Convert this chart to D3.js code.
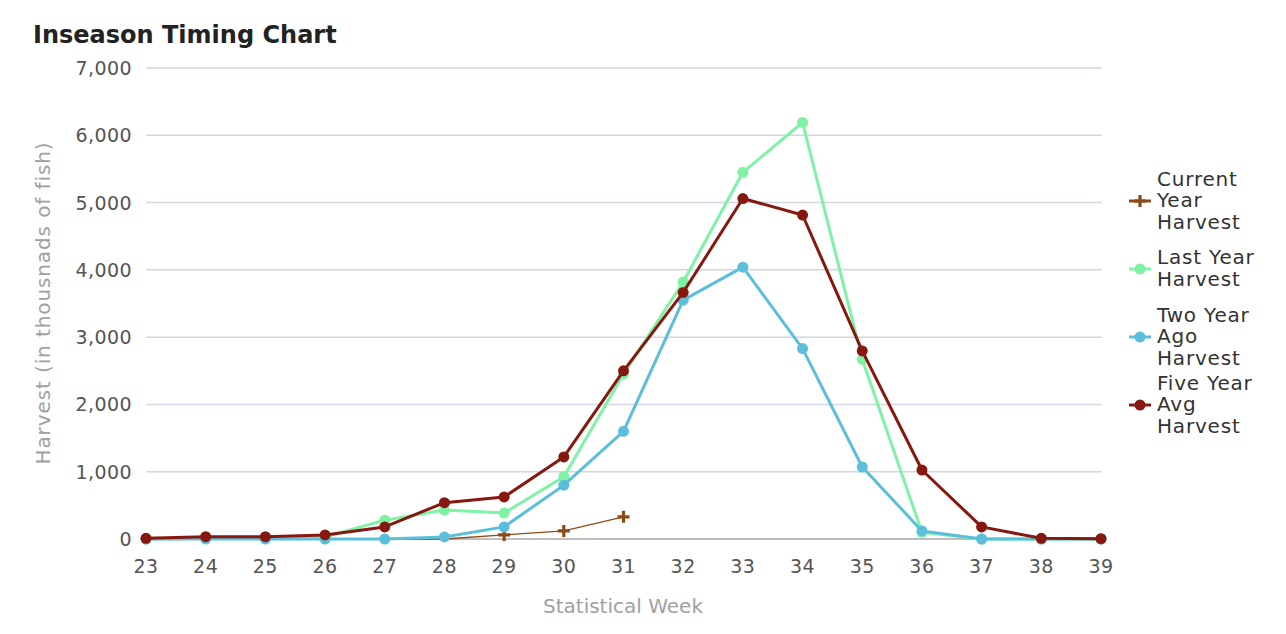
<!DOCTYPE html>
<html><head><meta charset="utf-8">
<script src="https://cdn.jsdelivr.net/npm/d3@7"></script>
<style>body{margin:0;background:#fff}svg{display:block}text{font-family:"DejaVu Sans",sans-serif}</style>
</head><body><svg id="c" width="1286" height="634"></svg>
<script>
const weeks = [23,24,25,26,27,28,29,30,31,32,33,34,35,36,37,38,39];
const yTicks = [0,1000,2000,3000,4000,5000,6000,7000];
const currentYear = [0,0,0,0,0,0,60,120,330];
const lastYear = [0,10,10,30,280,430,385,925,2450,3820,5450,6190,2670,100,0,0,0];
const twoYearAgo = [0,0,0,0,0,30,180,800,1600,3550,4040,2830,1070,120,0,0,0];
const fiveYearAvg = [10,35,35,60,180,540,625,1220,2500,3665,5060,4815,2795,1025,180,10,5];
const seriesNames = ["Current Year Harvest","Last Year Harvest","Two Year Ago Harvest","Five Year Avg Harvest"];
const legendLines = [["Current","Year","Harvest"],["Last Year","Harvest"],["Two Year","Ago","Harvest"],["Five Year","Avg","Harvest"]];

const svg = d3.select("#c");
const x = d3.scaleLinear().domain([23,39]).range([146,1101]);
const y = d3.scaleLinear().domain([0,7000]).range([539,68]);

svg.append("text").attr("x",33).attr("y",43).attr("font-size",24).attr("font-weight","bold").attr("fill","#222").text("Inseason Timing Chart");

// grid
svg.append("g").selectAll("line").data(yTicks.filter(d=>d>0)).join("line")
  .attr("x1",146).attr("x2",1102).attr("y1",d=>y(d)).attr("y2",d=>y(d))
  .attr("stroke","#d3d6e0").attr("stroke-width",1.5);
svg.append("line").attr("x1",146).attr("x2",1102).attr("y1",y(0)).attr("y2",y(0)).attr("stroke","#a8a8a8").attr("stroke-width",1.5);

// y labels
svg.append("g").selectAll("text").data(yTicks).join("text")
  .attr("x",132).attr("y",d=>y(d)+7).attr("text-anchor","end").attr("font-size",19).attr("letter-spacing",0.4).attr("fill","#555")
  .text(d=>d3.format(",")(d));
// x labels
svg.append("g").selectAll("text").data(weeks).join("text")
  .attr("x",d=>x(d)).attr("y",573).attr("text-anchor","middle").attr("font-size",19).attr("letter-spacing",0.5).attr("fill","#555")
  .text(d=>d);

svg.append("text").attr("transform","translate(50,303) rotate(-90)").attr("text-anchor","middle").attr("font-size",20).attr("letter-spacing",0.9).attr("fill","#a0a0a0").text("Harvest (in thousnads of fish)");
svg.append("text").attr("x",623).attr("y",613).attr("text-anchor","middle").attr("font-size",20).attr("fill","#a0a0a0").text("Statistical Week");

const line = d3.line().x(d=>x(d[0])).y(d=>y(d[1]));
const series = [
  {vals:currentYear,color:"#8b4a16",w:1.3,marker:"plus"},
  {vals:lastYear,color:"#7ff2a6",w:3,marker:"circle"},
  {vals:twoYearAgo,color:"#5bbfdc",w:3,marker:"circle"},
  {vals:fiveYearAvg,color:"#861810",w:3,marker:"circle"}
];
series.forEach(s=>{
  const pts = s.vals.map((v,i)=>[weeks[i],v]);
  svg.append("path").datum(pts).attr("d",line).attr("fill","none").attr("stroke",s.color).attr("stroke-width",s.w).attr("stroke-linejoin","round");
  if(s.marker==="circle"){
    svg.append("g").selectAll("circle").data(pts).join("circle").attr("cx",d=>x(d[0])).attr("cy",d=>y(d[1])).attr("r",5.5).attr("fill",s.color);
  } else {
    svg.append("g").selectAll("path").data(pts.slice(6)).join("path").attr("transform",d=>`translate(${x(d[0])},${y(d[1])})`)
      .attr("d","M-6,0H6M0,-6V6").attr("stroke",s.color).attr("stroke-width",3.2);
  }
});

// legend
const legY = [201,269,337,405];
series.forEach((s,i)=>{
  const g = svg.append("g").attr("transform",`translate(1140,${legY[i]})`);
  g.append("line").attr("x1",-11).attr("x2",11).attr("stroke",s.color).attr("stroke-width",s.marker==="plus"?3:s.w);
  if(s.marker==="circle") g.append("circle").attr("r",5.5).attr("fill",s.color);
  else g.append("path").attr("d","M-6,0H6M0,-6V6").attr("stroke",s.color).attr("stroke-width",3.2);
  const lines = legendLines[i];
  const n = lines.length;
  lines.forEach((t,j)=>{
    g.append("text").attr("x",17).attr("y",(j-(n-1)/2)*21.5+6).attr("font-size",20).attr("letter-spacing",0.8).attr("fill","#333").text(t);
  });
});
</script></body></html>
